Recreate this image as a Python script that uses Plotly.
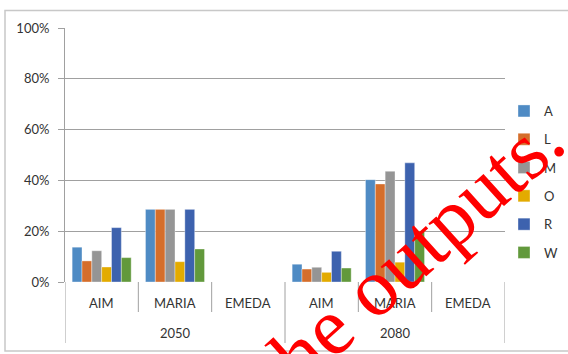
import plotly.graph_objects as go

years = ["2050", "2050", "2050", "2080", "2080", "2080"]
models = ["AIM", "MARIA", "EMEDA", "AIM", "MARIA", "EMEDA"]
series_names = ["A", "L", "M", "O", "R", "W"]
A = [0.137, 0.286, None, 0.070, 0.403, None]
L = [0.083, 0.286, None, 0.051, 0.386, None]
M = [0.123, 0.286, None, 0.058, 0.436, None]
O = [0.059, 0.080, None, 0.038, 0.078, None]
R = [0.214, 0.286, None, 0.121, 0.469, None]
W = [0.096, 0.130, None, 0.055, 0.201, None]
y_ticks = [0, 0.2, 0.4, 0.6, 0.8, 1.0]
overlay_text = "the outputs."

series_values = [A, L, M, O, R, W]
colors = ["#4F8BC4", "#D56E2B", "#959595", "#E3AB00", "#3D62AE", "#62993C"]

W_FIG, H_FIG = 568, 354
ML, MR, MT, MB = 65, 63, 28, 72
PH = H_FIG - MT - MB
PW = W_FIG - ML - MR

def py(pix):
    return (H_FIG - MB - pix) / PH

def px(pix):
    return (pix - ML) / PW

xs = list(range(len(models)))
fig = go.Figure()
for name, vals, col in zip(series_names, series_values, colors):
    fig.add_trace(go.Bar(
        x=xs, y=vals, name=name, legendgroup=name,
        marker=dict(color=col, line=dict(color="rgba(255,255,255,0.45)", width=0.8)),
    ))

font = "Lato, 'Open Sans', sans-serif"
txt = "#333333"
grid = "#A0A0A0"

shapes = []
for i in range(len(models) + 1):
    b = i - 0.5
    is_group = (i == 0 or i == len(models) or years[i] != years[i - 1])
    shapes.append(dict(type="line", xref="x", yref="paper", x0=b, x1=b,
                       y0=0, y1=py(343) if is_group else py(312),
                       line=dict(color=grid, width=1)))
shapes.append(dict(type="rect", xref="paper", yref="paper",
                   x0=px(5), x1=px(580), y0=py(351), y1=py(10.5),
                   line=dict(color="#C8C8C8", width=1.5), fillcolor="rgba(0,0,0,0)", layer="below"))

annotations = []
for i, m in enumerate(models):
    annotations.append(dict(x=i, y=py(303), xref="x", yref="paper", text=m,
                            xanchor="center", yanchor="middle",
                            showarrow=False, font=dict(family=font, size=13, color=txt)))
groups = []
for i, yv in enumerate(years):
    if not groups or groups[-1][0] != yv:
        groups.append([yv, i, i])
    else:
        groups[-1][2] = i
for yv, a, b in groups:
    annotations.append(dict(x=(a + b) / 2, y=py(333), xref="x", yref="paper", text=yv,
                            xanchor="center", yanchor="middle",
                            showarrow=False, font=dict(family=font, size=13, color=txt)))
annotations.append(dict(x=px(408), y=py(255), xref="paper", yref="paper",
                        xanchor="center", yanchor="middle",
                        text=overlay_text, showarrow=False, textangle=-42,
                        font=dict(family="'Liberation Serif', 'Times New Roman', serif", size=82, color="#FF0000")))

fig.update_layout(
    width=W_FIG, height=H_FIG,
    margin=dict(l=ML, r=MR, t=MT, b=MB, autoexpand=False),
    paper_bgcolor="white", plot_bgcolor="white",
    barmode="group", bargap=0.195, bargroupgap=0,
    showlegend=True,
    legend=dict(x=px(504), xanchor="left", y=py(96), yanchor="top",
                font=dict(family=font, size=13, color=txt), tracegroupgap=8.4,
                bgcolor="rgba(0,0,0,0)"),
    xaxis=dict(range=[-0.5, len(models) - 0.5], showticklabels=False, showgrid=False,
               zeroline=False, showline=False, ticks=""),
    yaxis=dict(range=[0, 1], tickvals=y_ticks, tickformat=".0%", showgrid=True, gridcolor=grid,
               gridwidth=1, zeroline=False, showline=True, linecolor=grid, linewidth=1,
               ticks="outside", ticklen=6, tickcolor=grid, ticklabelstandoff=6,
               tickfont=dict(family=font, size=13, color=txt)),
    shapes=shapes, annotations=annotations,
)

fig.write_html("out.html")
